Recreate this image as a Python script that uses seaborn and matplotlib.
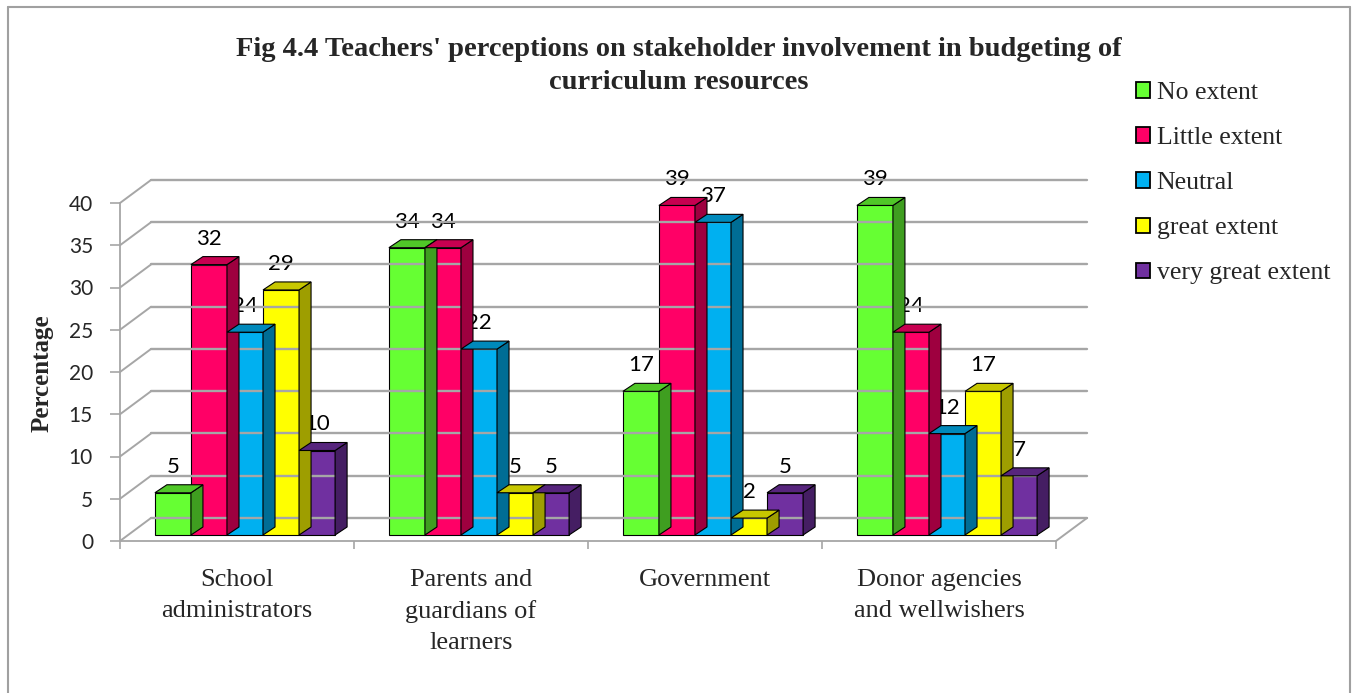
import numpy as np
import pandas as pd
import seaborn as sns
import matplotlib
matplotlib.use("Agg")
import matplotlib.pyplot as plt
from matplotlib.patches import Polygon, Patch
from matplotlib.lines import Line2D
from matplotlib.transforms import IdentityTransform, ScaledTranslation
from matplotlib.colors import to_rgb

# ---------------- data ----------------
categories = ["School\nadministrators", "Parents and\nguardians of\nlearners",
              "Government", "Donor agencies\nand wellwishers"]
levels = ["No extent", "Little extent", "Neutral", "great extent", "very great extent"]
no_extent = [5, 34, 17, 39]
little_extent = [32, 34, 39, 24]
neutral = [24, 22, 37, 12]
great_extent = [29, 5, 2, 17]
very_great_extent = [10, 5, 5, 7]
colors = ["#66FF33", "#FF0066", "#00B0F0", "#FFFF00", "#7030A0"]
y_ticks = [0, 5, 10, 15, 20, 25, 30, 35, 40]
title = ("Fig 4.4 Teachers' perceptions on stakeholder involvement in budgeting of\n"
         "curriculum resources")
y_label = "Percentage"

series = [no_extent, little_extent, neutral, great_extent, very_great_extent]
rows = []
for lev, vals in zip(levels, series):
    for cat, v in zip(categories, vals):
        rows.append({"category": cat, "level": lev, "value": v})
df = pd.DataFrame(rows)

# ---------------- figure ----------------
sns.set_theme(style="white")
plt.rcParams["font.family"] = ["Liberation Serif", "DejaVu Sans"]

W, H = 1356, 693
DPI = 100
PT = 72 / DPI
fig = plt.figure(figsize=(W / DPI, H / DPI), dpi=DPI)
fig.patch.set_facecolor("white")

ax_l, ax_r, ax_t, ax_b = 120, 1056, 203, 541
ax = fig.add_axes([ax_l / W, 1 - ax_b / H, (ax_r - ax_l) / W, (ax_b - ax_t) / H])
ax.set_facecolor("none")

sns.barplot(data=df, x="category", y="value", hue="level", order=categories,
            hue_order=levels, palette=colors, width=0.77, edgecolor="black",
            linewidth=0.8, ax=ax, legend=False, saturation=1)

ax.set_xlim(-0.5, len(categories) - 0.5)
ax.set_ylim(0, 40)
ax.set_xlabel("")
ax.set_ylabel("")

for s in ["top", "right"]:
    ax.spines[s].set_visible(False)
for s in ["left", "bottom"]:
    ax.spines[s].set_color("#A6A6A6")
    ax.spines[s].set_linewidth(1.3)

ax.set_yticks(y_ticks)
ax.set_yticklabels([str(t) for t in y_ticks], fontfamily="Lato", fontsize=15)
ax.tick_params(axis="y", direction="out", length=10 * PT, width=1.2, color="#A6A6A6",
               pad=17 * PT, left=True)
ax.set_xticks(range(len(categories)))
ax.set_xticklabels(categories, fontsize=19, linespacing=1.52, va="top")
ax.tick_params(axis="x", which="major", length=0, pad=20)
ax.set_xticks(np.arange(-0.5, len(categories), 1.0), minor=True)
ax.tick_params(axis="x", which="minor", direction="out", length=8 * PT, width=1.2,
               color="#A6A6A6", bottom=True)

fig.canvas.draw()

# ---------------- 3D decoration ----------------
wall = np.array([31.0, 23.0])     # back wall offset (px, display up)
depth = np.array([12.0, 8.0])     # bar depth offset
shift = np.array([8.0, 6.0])      # bar front offset from axis
grid_c = "#A6A6A6"

x0, x1 = ax.get_xlim()
for v in y_ticks:
    p = ax.transData.transform((x0, v))
    q = ax.transData.transform((x1, v))
    fig.add_artist(Line2D([p[0], p[0] + wall[0]], [p[1], p[1] + wall[1]],
                          transform=IdentityTransform(), color=grid_c, lw=1.4, zorder=0.5))
    fig.add_artist(Line2D([p[0] + wall[0], q[0] + wall[0]], [p[1] + wall[1], q[1] + wall[1]],
                          transform=IdentityTransform(), color=grid_c, lw=1.7, zorder=0.5))
q = ax.transData.transform((x1, 0))
fig.add_artist(Line2D([q[0], q[0] + wall[0]], [q[1], q[1] + wall[1]],
                      transform=IdentityTransform(), color=grid_c, lw=1.4, zorder=0.5))

bar_tf = ax.transData + ScaledTranslation(shift[0] / DPI, shift[1] / DPI, fig.dpi_scale_trans)


def shade(c, f):
    r, g, b = to_rgb(c)
    return (r * f, g * f, b * f)


for j, cont in enumerate(ax.containers):
    col = colors[j]
    for rect, val in zip(cont.patches, series[j]):
        xl, yb = rect.get_x(), rect.get_y()
        w, h = rect.get_width(), rect.get_height()
        bl = bar_tf.transform((xl, yb))
        tr = bar_tf.transform((xl + w, yb + h))
        L, B, R, T = bl[0], bl[1], tr[0], tr[1]
        dx, dy = depth
        side = Polygon([(R, B), (R, T), (R + dx, T + dy), (R + dx, B + dy)],
                       closed=True, transform=IdentityTransform(),
                       facecolor=shade(col, 0.62), edgecolor="black", lw=0.8,
                       zorder=2 + 2 * j)
        top = Polygon([(L, T), (R, T), (R + dx, T + dy), (L + dx, T + dy)],
                      closed=True, transform=IdentityTransform(),
                      facecolor=shade(col, 0.78), edgecolor="black", lw=0.8,
                      zorder=2 + 2 * j)
        fig.add_artist(side)
        fig.add_artist(top)
        rect.set_transform(bar_tf)
        rect.set_zorder(3 + 2 * j)
        rect.set_clip_on(False)
        ax.annotate(f"{val}", xy=(xl + w / 2, yb + h), xycoords=bar_tf,
                    xytext=(0, 26 * PT), textcoords="offset points",
                    ha="center", va="center", fontsize=16, fontfamily="Lato",
                    color="black", zorder=30, annotation_clip=False)

# ---------------- titles, legend, border ----------------
fig.text(679 / W, 1 - 66 / H, title, ha="center", va="center", fontsize=20.5,
         fontweight="bold", linespacing=1.42)
fig.text(42 / W, 1 - 373 / H, y_label, rotation=90, ha="center", va="center",
         fontsize=18, fontweight="bold")

handles = [Patch(facecolor=c, edgecolor="black", lw=1.3) for c in colors]
fig.legend(handles, levels, loc="upper left", bbox_to_anchor=(1136 / W, 1 - 82 / H),
           frameon=False, fontsize=18.5, handlelength=0.55, handleheight=0.55,
           handletextpad=0.25, labelspacing=0.9, borderpad=0, borderaxespad=0)

bc = "#A0A0A0"
fig.add_artist(Line2D([8 / W, 8 / W], [0, 1 - 7 / H], transform=fig.transFigure, color=bc, lw=1.5))
fig.add_artist(Line2D([8 / W, 1350 / W], [1 - 7 / H, 1 - 7 / H], transform=fig.transFigure, color=bc, lw=1.5))
fig.add_artist(Line2D([1350 / W, 1350 / W], [0, 1 - 7 / H], transform=fig.transFigure, color=bc, lw=1.5))

fig.savefig("out.png", dpi=DPI)
